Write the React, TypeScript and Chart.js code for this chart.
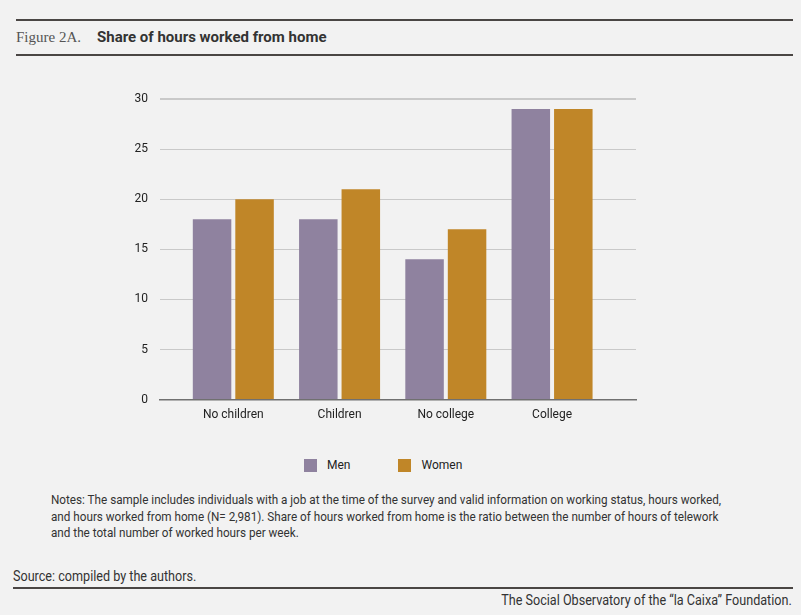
import { useEffect, useRef } from "react";
import { Chart, registerables, type ChartConfiguration } from "chart.js";

Chart.register(...registerables);

const categories = ["No children", "Children", "No college", "College"];
const seriesNames = ["Men", "Women"];
const menValues = [18, 18, 14, 29];
const womenValues = [20, 21, 17, 29];
const yTicks = [0, 5, 10, 15, 20, 25, 30];

const seriesColors = ["#8f829f", "#c08628"];
const sans = "Roboto, 'Noto Sans', sans-serif";

// the reference uses a condensed grotesque; squeeze Roboto to get close
const condensed = {
  fontFamily: sans,
  transform: "scaleX(0.9)",
  whiteSpace: "nowrap" as const,
  color: "#333",
};

function BarChart() {
  const canvasRef = useRef<HTMLCanvasElement | null>(null);
  const chartRef = useRef<Chart<"bar"> | null>(null);

  useEffect(() => {
    const canvas = canvasRef.current;
    if (!canvas) return;

    const config: ChartConfiguration<"bar"> = {
      type: "bar",
      data: {
        datasets: [menValues, womenValues].map((values, s) => ({
          label: seriesNames[s],
          data: values.map((v, i) => ({ x: i, y: v })) as any,
          backgroundColor: seriesColors[s],
          borderWidth: 0,
          categoryPercentage: 0.8,
          barPercentage: 0.906,
        })),
      },
      options: {
        responsive: true,
        maintainAspectRatio: false,
        animation: false,
        layout: { padding: { left: 130, right: 130, top: 29, bottom: 0 } },
        plugins: {
          legend: { display: false },
          tooltip: { enabled: false },
        },
        scales: {
          x: {
            type: "linear",
            offset: false,
            min: -0.69,
            max: 3.79,
            afterBuildTicks: (scale) => {
              scale.ticks = categories.map((_, i) => ({ value: i }));
            },
            ticks: {
              padding: 8,
              color: "#222",
              font: { family: sans, size: 12 },
              callback: (value) => categories[Number(value)] ?? "",
            },
            grid: { display: false, drawTicks: false },
            border: { display: true, color: "#707070", width: 1.5 },
          },
          y: {
            min: 0,
            max: 30,
            afterFit: (scale) => {
              scale.width = 30;
            },
            afterBuildTicks: (scale) => {
              scale.ticks = yTicks.map((v) => ({ value: v }));
            },
            ticks: {
              padding: 12,
              color: "#222",
              font: { family: sans, size: 12 },
            },
            grid: {
              color: "#c9c9c9",
              lineWidth: (ctx) => (ctx.tick && ctx.tick.value === 30 ? 2 : 1),
              drawTicks: false,
            },
            border: { display: false },
          },
        },
      },
    };

    chartRef.current = new Chart(canvas, config);
    return () => {
      if (chartRef.current) {
        chartRef.current.destroy();
        chartRef.current = null;
      }
    };
  }, []);

  return (
    <div style={{ position: "absolute", left: 0, top: 70, width: 766, height: 360 }}>
      <canvas ref={canvasRef} />
    </div>
  );
}

export default function App() {
  return (
    <div
      style={{
        position: "fixed",
        inset: 0,
        background: "#f2f2f2",
        overflow: "hidden",
        color: "#333",
      }}
    >
      <div style={{ position: "absolute", left: 16, top: 19, width: 777, height: 2, background: "#4a4644" }} />
      <div style={{ position: "absolute", left: 16, top: 54, width: 777, height: 2, background: "#4a4644" }} />
      <div style={{ position: "absolute", left: 16, top: 27, whiteSpace: "nowrap", lineHeight: "20px" }}>
        <span style={{ fontFamily: "'Liberation Serif', serif", fontSize: 15, color: "#555" }}>Figure 2A.</span>
        <span
          style={{
            position: "absolute",
            left: 81,
            fontFamily: sans,
            fontWeight: 700,
            fontSize: 15,
            color: "#333",
          }}
        >
          Share of hours worked from home
        </span>
      </div>

      <BarChart />

      <div
        style={{
          position: "absolute",
          top: 457,
          left: 304,
          display: "flex",
          alignItems: "center",
          fontFamily: sans,
          fontSize: 12,
          color: "#222",
          lineHeight: "16px",
        }}
      >
        {seriesNames.map((name, i) => (
          <div key={name} style={{ display: "flex", alignItems: "center", marginRight: i === 0 ? 48 : 0 }}>
            <span style={{ width: 13, height: 13, background: seriesColors[i], marginRight: 10 }} />
            <span>{name}</span>
          </div>
        ))}
      </div>

      <div
        style={{
          ...condensed,
          position: "absolute",
          left: 51,
          top: 492,
          transformOrigin: "left top",
          fontSize: 13,
          lineHeight: "16.5px",
        }}
      >
        Notes: The sample includes individuals with a job at the time of the survey and valid information on working status, hours worked,
        <br />
        and hours worked from home (N= 2,981). Share of hours worked from home is the ratio between the number of hours of telework
        <br />
        and the total number of worked hours per week.
      </div>

      <div
        style={{
          ...condensed,
          position: "absolute",
          left: 13,
          top: 568,
          transformOrigin: "left top",
          fontSize: 14,
          lineHeight: "17px",
        }}
      >
        Source: compiled by the authors.
      </div>
      <div style={{ position: "absolute", left: 13, top: 587, width: 780, height: 2, background: "#4a4644" }} />
      <div
        style={{
          ...condensed,
          position: "absolute",
          right: 9,
          top: 592,
          transformOrigin: "right top",
          fontSize: 14,
          lineHeight: "17px",
        }}
      >
        The Social Observatory of the “la Caixa” Foundation.
      </div>
    </div>
  );
}
